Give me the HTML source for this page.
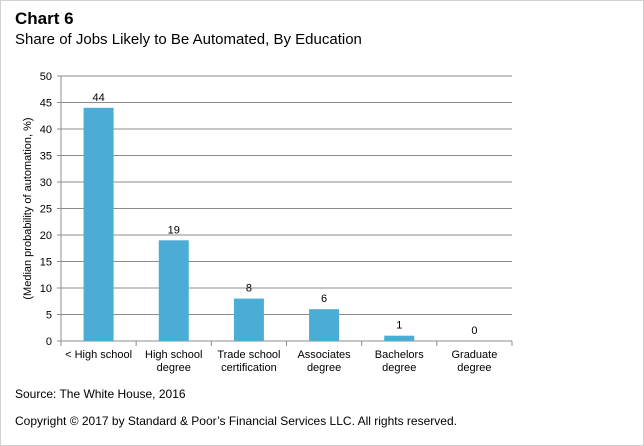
<!DOCTYPE html>
<html><head><meta charset="utf-8"><style>
body{margin:0;background:#fff;}
#wrap{position:relative;width:642px;height:444px;border:1px solid #d0d0d0;font-family:"Liberation Sans",sans-serif;color:#000;overflow:hidden;}
.t{position:absolute;white-space:nowrap;}
</style></head><body>
<div id="wrap">
<div class="t" style="left:14px;top:8px;font-size:17px;font-weight:bold;">Chart 6</div>
<div class="t" style="left:14px;top:30px;font-size:15px;">Share of Jobs Likely to Be Automated, By Education</div>
<svg width="644" height="446" style="position:absolute;left:-1px;top:-1px" id="chart"></svg>
<div class="t" style="left:14px;top:386px;font-size:12px;">Source: The White House, 2016</div>
<div class="t" style="left:14px;top:413px;font-size:12px;">Copyright © 2017 by Standard &amp; Poor’s Financial Services LLC. All rights reserved.</div>
</div>
<script>
const categories=[["< High school"],["High school","degree"],["Trade school","certification"],["Associates","degree"],["Bachelors","degree"],["Graduate","degree"]];
const values=[44,19,8,6,1,0];
const yTicks=[0,5,10,15,20,25,30,35,40,45,50];
const NS="http://www.w3.org/2000/svg";
const svg=document.getElementById('chart');
const x0=61,x1=512,y0=341,y1=76,yMax=50;
const y=v=>y0-(v/yMax)*(y0-y1);
const bw=(x1-x0)/categories.length;
function mk(tag,attrs,text){const e=document.createElementNS(NS,tag);for(const k in attrs)e.setAttribute(k,attrs[k]);if(text!==undefined)e.textContent=text;svg.appendChild(e);return e;}
yTicks.forEach(t=>{
  const g=mk('line',{x1:x0-4,x2:x1,y1:y(t),y2:y(t),stroke:'#8c8c8c','stroke-width':1});
  
  
  const l=mk('text',{x:x0-9,y:y(t)+4,'text-anchor':'end','font-size':11,'font-family':'Liberation Sans, sans-serif'},t);
  
  
});
const ax=mk('line',{x1:x0,x2:x0,y1:y1,y2:y0,stroke:'#8c8c8c'});


for(let i=0;i<=categories.length;i++){
  const tk=mk('line',{x1:x0+i*bw,x2:x0+i*bw,y1:y0,y2:y0+5,stroke:'#8c8c8c'});
  
  
}
categories.forEach((c,i)=>{
  const cx=x0+bw*(i+0.5);
  const b=mk('rect',{x:cx-15,y:y(values[i]),width:30,height:y0-y(values[i]),fill:'#4bacd6'});
  
  
  const v=mk('text',{x:cx,y:y(values[i])-7,'text-anchor':'middle','font-size':11,'font-family':'Liberation Sans, sans-serif'},values[i]);
  
  
  c.forEach((line,j)=>{
    const t=mk('text',{x:cx,y:y0+17+j*13,'text-anchor':'middle','font-size':11,'font-family':'Liberation Sans, sans-serif'},line);
    
    
  });
});
const yt=mk('text',{x:0,y:0,'text-anchor':'middle','font-size':11,'font-family':'Liberation Sans, sans-serif',transform:'translate(31,'+((y0+y1)/2)+') rotate(-90)'},'(Median probability of automation, %)');


</script>
</body></html>
